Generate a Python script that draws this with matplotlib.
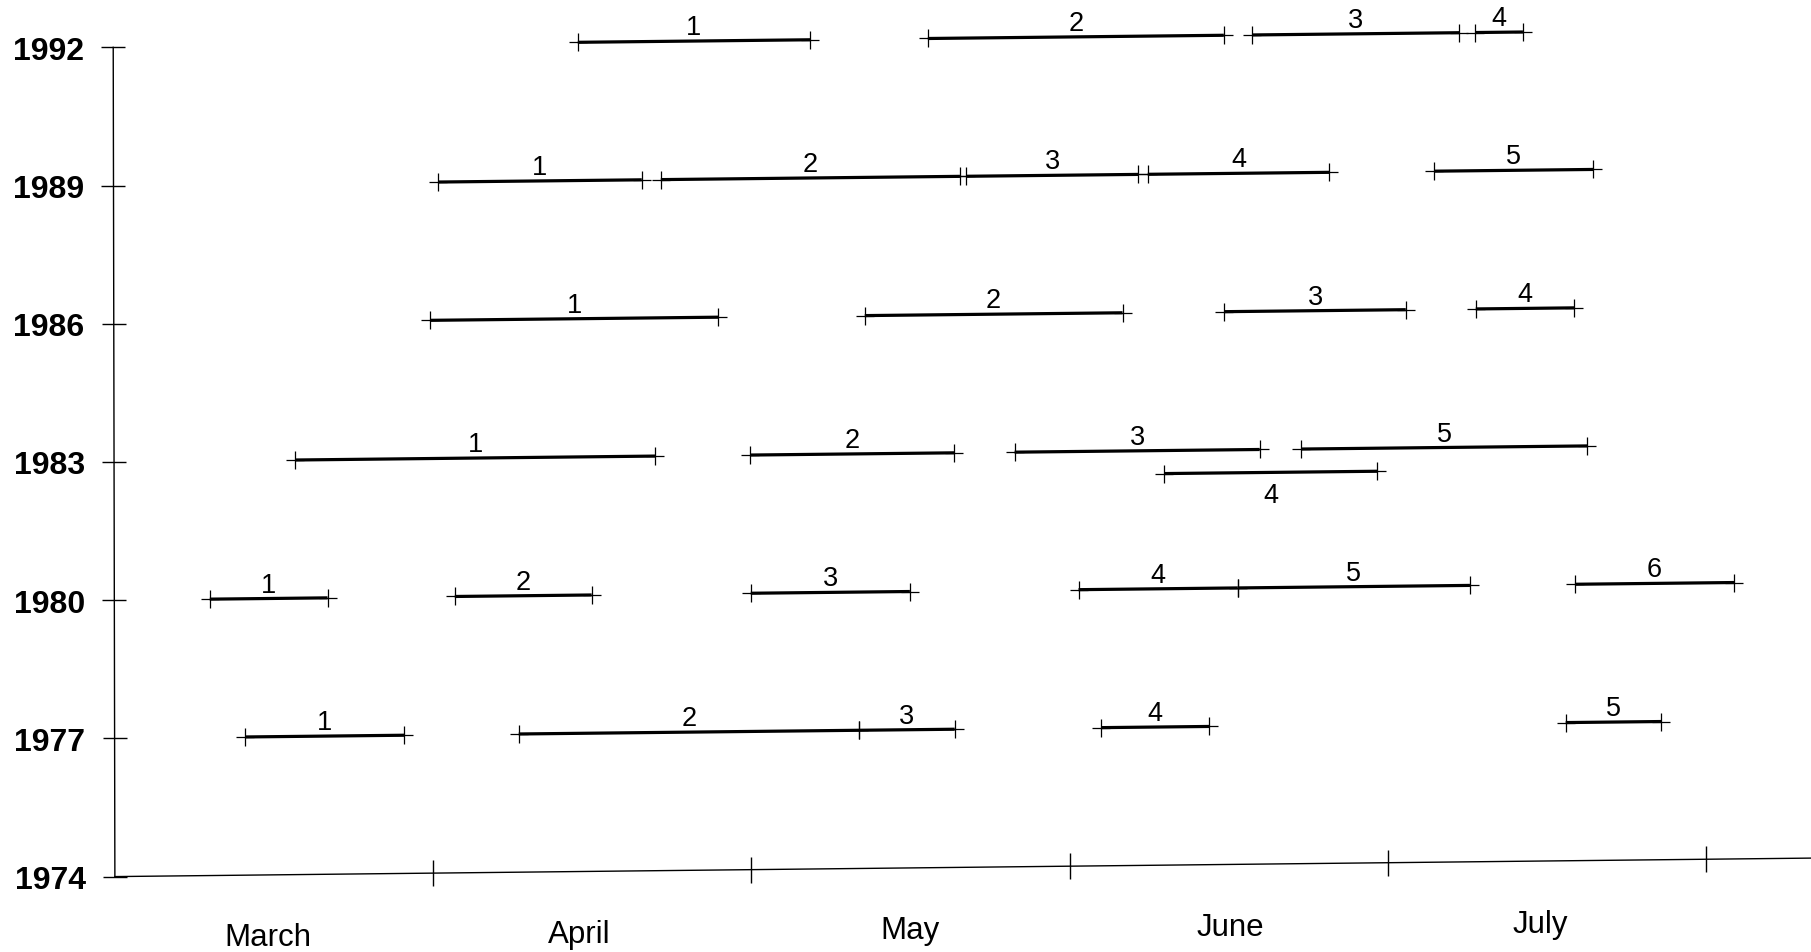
import numpy as np
import matplotlib
matplotlib.use('Agg')
import matplotlib.pyplot as plt
from matplotlib.transforms import Affine2D

plt.rcParams['font.family'] = ['Liberation Sans', 'DejaVu Sans']

# month scale: 3 = 1 March, 4 = 1 April ...
month_names = ['March', 'April', 'May', 'June', 'July']
month_label_pos = [3.48, 4.46, 5.50, 6.505, 7.48]
month_ticks = [4, 5, 6, 7, 8]
year_ticks = [1974, 1977, 1980, 1983, 1986, 1989, 1992]

# segment start / end per year (labels are 1..n in order)
start_1992 = [4.46, 5.56, 6.58, 7.28]
end_1992 = [5.19, 6.49, 7.23, 7.43]

start_1989 = [4.02, 4.72, 5.68, 6.25, 7.15]
end_1989 = [4.66, 5.66, 6.22, 6.82, 7.65]

start_1986 = [3.995, 5.36, 6.49, 7.28]
end_1986 = [4.90, 6.17, 7.06, 7.59]

start_1983 = [3.57, 5.00, 5.83, 6.30, 6.73]
end_1983 = [4.70, 5.64, 6.60, 6.97, 7.63]
shift_1983 = [0, 0, 0, -0.5, 0]   # segment 4 drawn half a row lower

start_1980 = [3.30, 4.07, 5.00, 6.03, 6.53, 7.59]
end_1980 = [3.67, 4.50, 5.50, 6.53, 7.26, 8.09]

start_1977 = [3.41, 4.27, 5.34, 6.10, 7.56]
end_1977 = [3.91, 5.34, 5.64, 6.44, 7.86]

rows = {
    1992: (start_1992, end_1992, None),
    1989: (start_1989, end_1989, None),
    1986: (start_1986, end_1986, None),
    1983: (start_1983, end_1983, shift_1983),
    1980: (start_1980, end_1980, None),
    1977: (start_1977, end_1977, None),
}

fig = plt.figure(figsize=(18.11, 9.53), dpi=100)
ax = fig.add_axes([0, 0, 1, 1])
ax.set_xlim(2.639, 8.330)
ax.set_ylim(1972.363, 1993.05)
ax.axis('off')

# the scanned page is slightly skewed
x0, y0 = ax.transData.transform((3, 1974))
skew = (Affine2D().translate(-x0, -y0)
        + Affine2D(np.array([[1.0, -0.002, 0.0], [0.0109, 1.0, 0.0], [0.0, 0.0, 1.0]]))
        + Affine2D().translate(x0, y0))
tr = ax.transData + skew

# axes
ax.plot([3, 3], [year_ticks[0], year_ticks[-1]], color='k', lw=1.0, transform=tr, clip_on=False)
ax.plot([3, 8.33], [1974, 1974], color='k', lw=1.0, transform=tr, clip_on=False)
ax.plot([3] * len(year_ticks), year_ticks, ls='none', marker='_', ms=17, mew=1.0,
        color='k', transform=tr)
ax.plot(month_ticks, [1974] * len(month_ticks), ls='none', marker='|', ms=19, mew=1.0,
        color='k', transform=tr)

for y in year_ticks:
    ax.annotate(str(y), (3, y), xycoords=tr, xytext=(-21, 0), textcoords='offset points',
                ha='right', va='center_baseline', fontsize=23, fontweight='bold')

for name, m in zip(month_names, month_label_pos):
    ax.annotate(name, (m, 1974), xycoords=tr, xytext=(0, -45), textcoords='offset points',
                ha='center', va='center', fontsize=22.5)

# segments
for year, (starts, ends, shifts) in rows.items():
    if shifts is None:
        shifts = [0] * len(starts)
    for k, (s, e, d) in enumerate(zip(starts, ends, shifts), start=1):
        y = year + d
        ax.plot([s, e], [y, y], color='k', lw=2.3, solid_capstyle='butt', transform=tr)
        ax.plot([s, e], [y, y], ls='none', marker='+', ms=12.5, mew=0.9, color='k', transform=tr)
        if d < 0:
            ax.annotate(str(k), ((s + e) / 2, y), xycoords=tr, xytext=(0, -16.5),
                        textcoords='offset points', ha='center', va='center', fontsize=19.5)
        else:
            ax.annotate(str(k), ((s + e) / 2, y), xycoords=tr, xytext=(0, 5),
                        textcoords='offset points', ha='center', va='baseline', fontsize=19.5)

fig.savefig('out.png', dpi=100, facecolor='white')
